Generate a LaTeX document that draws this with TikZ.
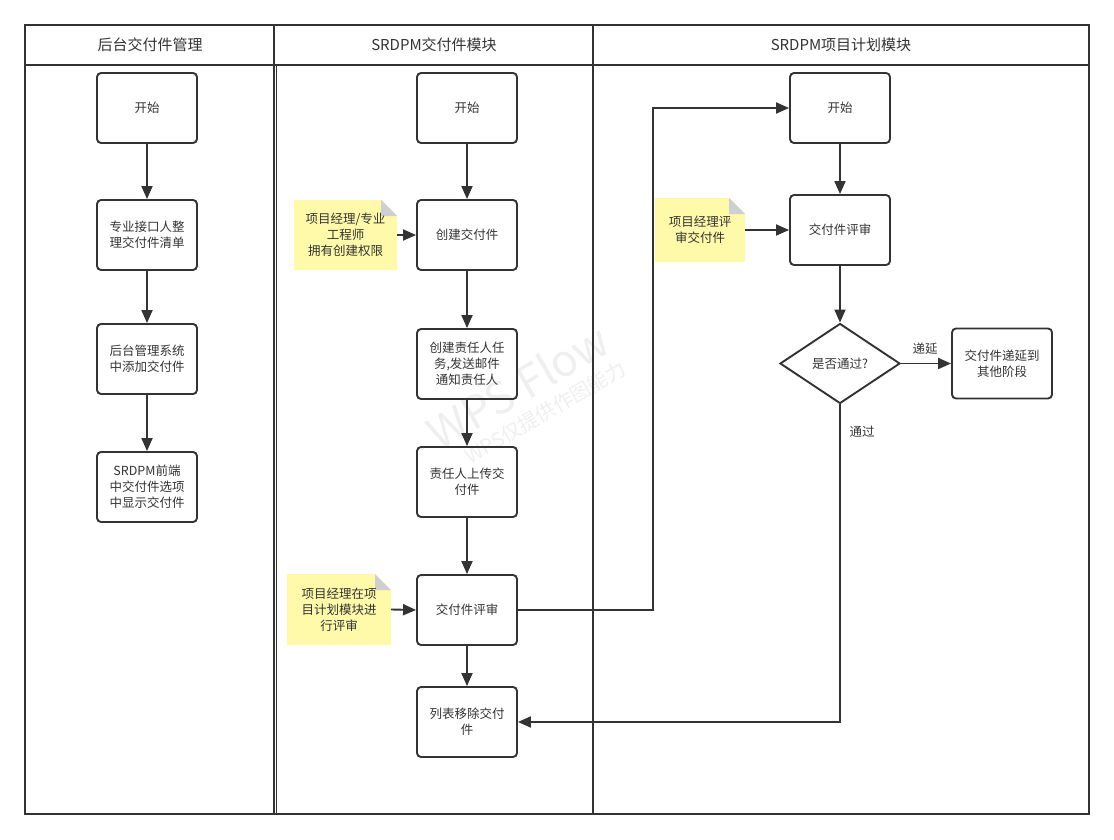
\documentclass[tikz,border=0pt]{standalone}
\usepackage{fontspec}
\setmainfont{Noto Sans CJK SC}
\usetikzlibrary{shapes.geometric,arrows.meta,calc}
\definecolor{ink}{HTML}{333333}
\definecolor{notey}{HTML}{FFFAAA}
\definecolor{foldc}{HTML}{CFCFCF}
\definecolor{wm}{HTML}{EFEFEF}
\begin{document}
\begin{tikzpicture}[x=1pt,y=-1pt,
  proc/.style={draw=ink, line width=1.9pt, rounded corners=4pt, minimum width=100pt, minimum height=70pt,
    align=center, inner sep=0pt, text=ink, font=\fontsize{12.5}{16}\selectfont},
  dec/.style={draw=ink, line width=1.9pt, diamond, minimum width=120pt, minimum height=80pt, inner sep=0pt,
    align=center, text=ink, font=\fontsize{12.5}{16}\selectfont},
  notebox/.style={minimum width=#1, inner sep=0pt, align=center, text=ink, font=\fontsize{12.5}{16}\selectfont},
  lanetitle/.style={text=ink, font=\fontsize{15}{18}\selectfont, inner sep=0pt},
  lbl/.style={text=ink, font=\fontsize{12.5}{16}\selectfont, inner sep=0pt},
  conn/.style={draw=ink, line width=1.9pt, -{Triangle[length=13pt,width=11pt]}},
  lane/.style={draw=ink, line width=1.9pt},
]
\useasboundingbox (0,0) rectangle (1114,840);

% watermark
\node[rotate=30, text=wm, font=\fontsize{44}{48}\selectfont, inner sep=0pt] (wm1) at (518,386) {WPS Flow};
\node[rotate=30, text=wm, font=\fontsize{20}{24}\selectfont, inner sep=0pt] (wm2) at (545,412) {WPS仅提供作图能力};

% swimlanes
\draw[lane] (25,25) rectangle (1089,814);
\draw[lane] (25,65) -- (1089,65);
\draw[lane] (274,25) -- (274,814);
\draw[draw=ink, line width=1pt] (276.8,65) -- (276.8,814);
\draw[lane] (593,25) -- (593,814);
\node[lanetitle] (t1) at (150,45) {后台交付件管理};
\node[lanetitle] (t2) at (434,45) {SRDPM交付件模块};
\node[lanetitle] (t3) at (841,45) {SRDPM项目计划模块};

% notes (backgrounds)
\newcommand{\notebg}[4]{%
  \fill[notey] (#1,#2) -- (#3-16,#2) -- (#3,#2+16) -- (#3,#4) -- (#1,#4) -- cycle;
  \fill[foldc] (#3-16,#2) -- (#3-16,#2+16) -- (#3,#2+16) -- cycle;}
\notebg{294}{200}{397}{270}
\notebg{287}{574}{391}{645}
\notebg{655}{198}{745}{262}

% lane 1
\node[proc] (a1) at (147,108) {开始};
\node[proc] (a2) at (147,235) {专业接口人整\\理交付件清单};
\node[proc] (a3) at (147,359) {后台管理系统\\中添加交付件};
\node[proc] (a4) at (147,487) {SRDPM前端\\中交付件选项\\中显示交付件};

% lane 2
\node[proc] (b1) at (467,108) {开始};
\node[proc] (b2) at (467,235) {创建交付件};
\node[proc] (b3) at (467,364) {创建责任人任\\务,发送邮件\\通知责任人};
\node[proc] (b4) at (467,482) {责任人上传交\\付件};
\node[proc] (b5) at (467,610) {交付件评审};
\node[proc] (b6) at (467,722) {列表移除交付\\件};

\node[notebox=103pt, minimum height=70pt] (n1) at (345.5,235) {项目经理/专业\\工程师\\拥有创建权限};
\node[notebox=104pt, minimum height=71pt] (n2) at (339,609.5) {项目经理在项\\目计划模块进\\行评审};

% lane 3
\node[proc] (c1) at (840,108) {开始};
\node[proc] (c2) at (840,230) {交付件评审};
\node[dec] (d) at (840,363.5) {是否通过?};
\node[proc] (e) at (1002,363.5) {交付件递延到\\其他阶段};
\node[notebox=90pt, minimum height=64pt] (n3) at (700,230) {项目经理评\\审交付件};

% connectors
\draw[conn] (a1) -- (a2);
\draw[conn] (a2) -- (a3);
\draw[conn] (a3) -- (a4);

\draw[conn] (b1) -- (b2);
\draw[conn] (b2) -- (b3);
\draw[conn] (b3) -- (b4);
\draw[conn] (b4) -- (b5);
\draw[conn] (b5) -- (b6);
\draw[conn] (n1.east) -- (b2.west);
\draw[conn] (n2.east) -- (b5.west);

\coordinate (k1) at (653,610);
\draw[conn] (b5.east) -- (k1) |- (c1.west);
\draw[conn] (c1) -- (c2);
\draw[conn] (n3.east) -- (c2.west);
\draw[conn] (c2) -- (d);
\draw[conn] (d.east) -- (e.west);
\node[lbl] (l1) at (925,349) {递延};
\coordinate (k2) at (840,722);
\draw[conn] (d.south) -- (k2) -- (b6.east);
\node[lbl] (l2) at (862,432) {通过};
\end{tikzpicture}
\end{document}
